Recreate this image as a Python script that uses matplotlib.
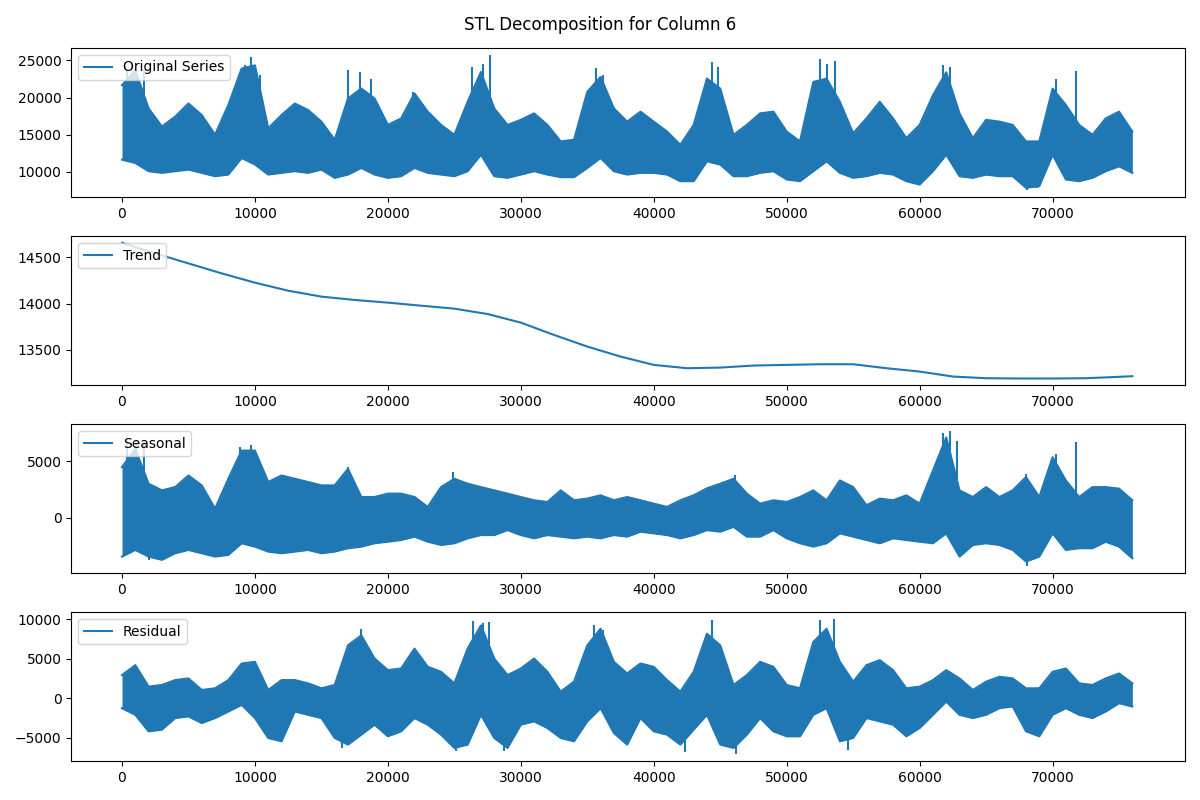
import matplotlib
matplotlib.use("Agg")
import matplotlib.pyplot as plt
import numpy as np

knots = list(range(0, 77000, 1000))

# Original series: upper / lower envelope of the dense band
orig_hi = [21660, 23660, 18540, 16100, 17430, 19200, 17650, 15000, 19000, 23900,
           24330, 15870, 17650, 19200, 18320, 16760, 14320, 19880, 21210, 19880,
           16320, 17200, 20550, 18100, 16320, 14980, 19430, 23440, 18540, 16320,
           17000, 17870, 16320, 14100, 14320, 20770, 22770, 18540, 16760, 18100,
           16760, 15420, 13650, 16320, 22550, 21200, 14980, 16320, 17870, 18100,
           15420, 14100, 22100, 22550, 19430, 15200, 17200, 19430, 17200, 14540,
           16320, 20300, 23400, 17870, 14540, 17000, 16760, 16320, 14100, 14100,
           21200, 19000, 16320, 14980, 17200, 18100, 15420]
orig_lo = [11650, 11200, 10090, 9870, 10090, 10310, 9870, 9420, 9640, 11870,
           11000, 9640, 9870, 10090, 9870, 10310, 9200, 9640, 10530, 9640,
           9200, 9420, 10530, 9870, 9640, 9420, 10090, 12310, 9420, 9200,
           9640, 10090, 9640, 9290, 9290, 10530, 11870, 10090, 9640, 9870,
           9870, 9640, 8750, 8750, 11420, 10980, 9420, 9420, 9870, 10090,
           8980, 8750, 10090, 11420, 9870, 9200, 9420, 9870, 9640, 8750,
           8300, 10090, 12310, 9420, 9200, 9640, 9420, 9420, 7860, 8080,
           12310, 8980, 8750, 9200, 10090, 10750, 9870]
orig_spike_x = [400, 1075, 1670, 9270, 9730, 10350, 17020, 17880, 18740, 21900,
                26340, 27150, 27690, 35620, 36160, 44400, 44830, 52490, 53060,
                53630, 61770, 62280, 70290, 71790, 68100, 68810]
orig_spike_y = [23660, 23660, 23660, 24330, 25440, 23000, 23660, 23440, 22550, 20770,
                24110, 24550, 25750, 23970, 23000, 24780, 24110, 25130, 24550,
                24860, 24330, 24110, 22550, 23530, 7500, 7770]

# Trend (smooth curve)
trend_x = [0, 2500, 5000, 7500, 10000, 12500, 15000, 17500, 20000, 22500,
           25000, 27500, 30000, 32500, 35000, 37500, 40000, 42500, 45000, 47500,
           50000, 52500, 55000, 57500, 60000, 62500, 65000, 67500, 70000, 72500,
           75000, 76000]
trend_y = [14658, 14543, 14435, 14327, 14227, 14140, 14076, 14040, 14011, 13978,
           13946, 13888, 13795, 13662, 13536, 13428, 13338, 13302, 13309, 13331,
           13338, 13345, 13345, 13302, 13266, 13212, 13194, 13191, 13191, 13194,
           13209, 13216]

# Seasonal component
seas_hi = [4470, 6090, 3000, 2410, 2700, 3730, 2850, 790, 3440, 5940,
           5940, 3150, 3730, 3440, 3150, 2850, 2850, 4320, 1820, 1820,
           2120, 2120, 1820, 940, 2700, 3440, 3000, 2700, 2410, 2120,
           1820, 1530, 1380, 2410, 1530, 1680, 1970, 1530, 1820, 1530,
           1230, 940, 1530, 1970, 2590, 3000, 3440, 2120, 1230, 1530,
           1380, 1820, 2410, 1530, 3290, 2700, 1090, 1680, 1530, 1970,
           1230, 4170, 7110, 2410, 1820, 2700, 1820, 2410, 3590, 1820,
           5350, 3290, 1820, 2700, 2700, 2560, 1530]
seas_lo = [-3470, -2880, -3470, -3760, -3175, -2880, -3175, -3470, -3320, -2290,
           -2590, -3030, -3175, -3030, -2880, -3175, -3030, -2730, -2590, -2290,
           -2150, -2000, -1700, -2150, -2440, -2290, -1850, -1560, -1560, -1120,
           -1560, -1850, -1560, -1700, -1850, -1700, -1850, -1560, -1700, -1260,
           -1410, -1560, -1850, -1560, -1120, -1260, -830, -1700, -1700, -1120,
           -1850, -2290, -2590, -2290, -1410, -1700, -2000, -2290, -1850, -2000,
           -2150, -2290, -1410, -3470, -2440, -2290, -2440, -2880, -3910, -3470,
           -1410, -2880, -2730, -2730, -2150, -2590, -3620]
seas_spike_x = [400, 1075, 1670, 8870, 9730, 17020, 24870, 46100, 61770, 62280,
                62790, 70230, 71790, 68020, 2020, 68100]
seas_spike_y = [6970, 6820, 6670, 6290, 6470, 4470, 4030, 3730, 7470, 7700,
                6760, 5640, 6730, 3880, -3760, -4350]

# Residual component
resid_hi = [2930, 4190, 1470, 1680, 2300, 2510, 1050, 1260, 2300, 4400,
            4610, 1050, 2300, 2300, 1890, 1260, 1680, 6700, 7960, 5030,
            3560, 3770, 6290, 3980, 3350, 1890, 6290, 9220, 5030, 2930,
            3770, 5030, 3350, 840, 2100, 6700, 8800, 4610, 3140, 4400,
            3980, 2300, 840, 3350, 8170, 6700, 1680, 2930, 4610, 3980,
            1680, 1260, 7120, 8800, 4610, 2100, 4190, 4820, 3560, 1260,
            1470, 2300, 3560, 2510, 1050, 2100, 2720, 2510, 1260, 1260,
            3350, 3770, 1890, 1680, 2510, 3140, 1890]
resid_hi_tail = []
resid_lo = [-1260, -2100, -4190, -3980, -2510, -2300, -3140, -2510, -1680, -840,
            -2510, -5030, -5450, -1680, -2100, -2510, -5030, -5870, -4610, -3350,
            -4820, -4190, -2510, -3350, -4610, -6290, -5870, -2100, -5030, -6290,
            -3350, -2930, -3770, -5030, -5450, -2930, -1260, -4400, -5870, -2510,
            -4190, -4610, -5870, -3980, -2100, -5870, -6290, -4610, -2510, -4190,
            -4820, -4820, -2100, -1260, -5450, -5030, -2510, -2930, -3350, -4820,
            -3770, -2100, -420, -2100, -2510, -2100, -1260, -1050, -4190, -4820,
            -2100, -1260, -2100, -2510, -1680, -630, -1050]
resid_spike_x = [17960, 26400, 27150, 27630, 35480, 36160, 44400, 52490, 53540,
                 25130, 28760, 16530, 42360, 46160, 54620]
resid_spike_y = [8800, 9720, 9550, 9640, 9220, 8590, 9850, 9850, 10060,
                 -6700, -6700, -6290, -6790, -7120, -6500]

blue = "#1f77b4"

fig, axes = plt.subplots(4, 1, figsize=(12, 8), dpi=100)


def band(ax, hi, lo, sx, sy, label):
    x = np.array(knots)
    ax.fill_between(x, lo, hi, color=blue, lw=0)
    ax.plot(x, hi, color=blue, lw=1.5, label=label)
    ax.plot(x, lo, color=blue, lw=1.5)
    mid = (np.mean(hi) + np.mean(lo)) / 2.0
    ax.vlines(sx, mid, sy, color=blue, lw=1.5)
    ax.legend(loc="upper left")


band(axes[0], orig_hi, orig_lo, orig_spike_x, orig_spike_y, "Original Series")

axes[1].plot(trend_x, trend_y, color=blue, label="Trend")
axes[1].legend(loc="upper left")

band(axes[2], seas_hi, seas_lo, seas_spike_x, seas_spike_y, "Seasonal")
band(axes[3], resid_hi, resid_lo, resid_spike_x, resid_spike_y, "Residual")

for ax in axes:
    ax.set_xlim(-3810, 79960)
    ax.set_xticks([0, 10000, 20000, 30000, 40000, 50000, 60000, 70000])
axes[1].set_yticks([13500, 14000, 14500])

fig.suptitle("STL Decomposition for Column 6")
fig.tight_layout()
fig.savefig("out.png")
